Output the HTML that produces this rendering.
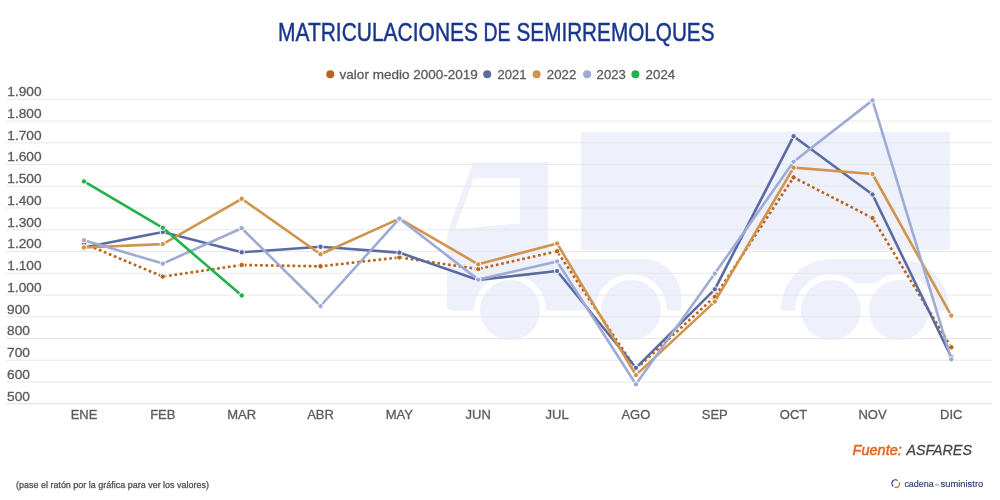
<!DOCTYPE html>
<html lang="es"><head><meta charset="utf-8"><title>Matriculaciones de semirremolques</title>
<style>html,body{margin:0;padding:0;background:#fff}body{width:1000px;height:500px;overflow:hidden;font-family:"Liberation Sans",sans-serif}svg{display:block}text{font-family:"Liberation Sans",sans-serif}</style></head><body>
<svg width="1000" height="500" viewBox="0 0 1000 500">
<rect width="1000" height="500" fill="#fff"/>
<g fill="#eef0fb">
<rect x="581" y="131.8" width="369" height="117.8"/>
<path fill-rule="evenodd" d="M473 162.3 H548 V259 H643 A38 38 0 0 1 681 297 V310.5 H667 V310 A36 36 0 0 0 595 310 V310.5 H546 V310 A36 36 0 0 0 474 310 V310.5 H452 A5 5 0 0 1 447 305.5 V240 Q447 234 449.2 228 Z M473.5 178 H520 V223.5 L455.5 229 Z"/>
<path d="M781 310.5 V310 A50 50 0 0 1 831 259 H899 A50 50 0 0 1 949 310 V310.5 H935 V310 A36 36 0 0 0 875.2 283 H854.8 A36 36 0 0 0 795 310 V310.5 Z"/>
<circle cx="510" cy="310" r="30"/>
<circle cx="631" cy="310" r="30"/>
<circle cx="831" cy="310" r="30"/>
<circle cx="899" cy="310" r="30"/>
</g>
<g stroke="#e8e8e8" stroke-width="1">
<line x1="6" x2="992" y1="99.25" y2="99.25"/>
<line x1="6" x2="992" y1="121.00" y2="121.00"/>
<line x1="6" x2="992" y1="142.75" y2="142.75"/>
<line x1="6" x2="992" y1="164.50" y2="164.50"/>
<line x1="6" x2="992" y1="186.25" y2="186.25"/>
<line x1="6" x2="992" y1="208.00" y2="208.00"/>
<line x1="6" x2="992" y1="229.75" y2="229.75"/>
<line x1="6" x2="992" y1="251.50" y2="251.50"/>
<line x1="6" x2="992" y1="273.25" y2="273.25"/>
<line x1="6" x2="992" y1="295.00" y2="295.00"/>
<line x1="6" x2="992" y1="316.75" y2="316.75"/>
<line x1="6" x2="992" y1="338.50" y2="338.50"/>
<line x1="6" x2="992" y1="360.25" y2="360.25"/>
<line x1="6" x2="992" y1="382.00" y2="382.00"/>
<line x1="6" x2="992" y1="403.75" y2="403.75" stroke="#dedede"/>
</g>
<g font-size="13" fill="#5c5c5c" stroke="#5c5c5c" stroke-width="0.3">
<text transform="translate(7.3,96.05) scale(1.055,1)">1.900</text>
<text transform="translate(7.3,117.80) scale(1.055,1)">1.800</text>
<text transform="translate(7.3,139.55) scale(1.055,1)">1.700</text>
<text transform="translate(7.3,161.30) scale(1.055,1)">1.600</text>
<text transform="translate(7.3,183.05) scale(1.055,1)">1.500</text>
<text transform="translate(7.3,204.80) scale(1.055,1)">1.400</text>
<text transform="translate(7.3,226.55) scale(1.055,1)">1.300</text>
<text transform="translate(7.3,248.30) scale(1.055,1)">1.200</text>
<text transform="translate(7.3,270.05) scale(1.055,1)">1.100</text>
<text transform="translate(7.3,291.80) scale(1.055,1)">1.000</text>
<text transform="translate(7.0,313.55) scale(1.055,1)">900</text>
<text transform="translate(7.0,335.30) scale(1.055,1)">800</text>
<text transform="translate(7.0,357.05) scale(1.055,1)">700</text>
<text transform="translate(7.0,378.80) scale(1.055,1)">600</text>
<text transform="translate(7.0,400.55) scale(1.055,1)">500</text>
</g>
<g font-size="13" fill="#5c5c5c" stroke="#5c5c5c" stroke-width="0.3" text-anchor="middle">
<text x="84.0" y="419.4">ENE</text>
<text x="162.8" y="419.4">FEB</text>
<text x="241.7" y="419.4">MAR</text>
<text x="320.5" y="419.4">ABR</text>
<text x="399.4" y="419.4">MAY</text>
<text x="478.2" y="419.4">JUN</text>
<text x="557.1" y="419.4">JUL</text>
<text x="635.9" y="419.4">AGO</text>
<text x="714.8" y="419.4">SEP</text>
<text x="793.6" y="419.4">OCT</text>
<text x="872.5" y="419.4">NOV</text>
<text x="951.3" y="419.4">DIC</text>
</g>
<polyline points="84.0,243.5 162.8,276.6 241.7,265.0 320.5,266.3 399.4,257.4 478.2,269.0 557.1,251.3 635.9,369.0 714.8,296.8 793.6,177.4 872.5,218.0 951.3,347.3" fill="none" stroke="#b8641c" stroke-width="2.6" stroke-linejoin="round" stroke-dasharray="2.7 2.7"/>
<g fill="#b8641c" stroke="#fff" stroke-width="1">
<circle cx="84.0" cy="243.5" r="2.7"/>
<circle cx="162.8" cy="276.6" r="2.7"/>
<circle cx="241.7" cy="265.0" r="2.7"/>
<circle cx="320.5" cy="266.3" r="2.7"/>
<circle cx="399.4" cy="257.4" r="2.7"/>
<circle cx="478.2" cy="269.0" r="2.7"/>
<circle cx="557.1" cy="251.3" r="2.7"/>
<circle cx="635.9" cy="369.0" r="2.7"/>
<circle cx="714.8" cy="296.8" r="2.7"/>
<circle cx="793.6" cy="177.4" r="2.7"/>
<circle cx="872.5" cy="218.0" r="2.7"/>
<circle cx="951.3" cy="347.3" r="2.7"/>
</g>
<polyline points="84.0,247.5 162.8,232.0 241.7,252.3 320.5,246.8 399.4,252.6 478.2,280.0 557.1,271.0 635.9,367.8 714.8,289.3 793.6,136.2 872.5,194.5 951.3,357.3" fill="none" stroke="#5a6ba3" stroke-width="2.6" stroke-linejoin="round"/>
<g fill="#5a6ba3" stroke="#fff" stroke-width="1">
<circle cx="84.0" cy="247.5" r="2.7"/>
<circle cx="162.8" cy="232.0" r="2.7"/>
<circle cx="241.7" cy="252.3" r="2.7"/>
<circle cx="320.5" cy="246.8" r="2.7"/>
<circle cx="399.4" cy="252.6" r="2.7"/>
<circle cx="478.2" cy="280.0" r="2.7"/>
<circle cx="557.1" cy="271.0" r="2.7"/>
<circle cx="635.9" cy="367.8" r="2.7"/>
<circle cx="714.8" cy="289.3" r="2.7"/>
<circle cx="793.6" cy="136.2" r="2.7"/>
<circle cx="872.5" cy="194.5" r="2.7"/>
<circle cx="951.3" cy="357.3" r="2.7"/>
</g>
<polyline points="84.0,247.5 162.8,244.1 241.7,198.8 320.5,254.2 399.4,218.6 478.2,264.3 557.1,243.5 635.9,375.1 714.8,301.6 793.6,167.6 872.5,174.0 951.3,315.6" fill="none" stroke="#d0944c" stroke-width="2.6" stroke-linejoin="round"/>
<g fill="#d0944c" stroke="#fff" stroke-width="1">
<circle cx="84.0" cy="247.5" r="2.7"/>
<circle cx="162.8" cy="244.1" r="2.7"/>
<circle cx="241.7" cy="198.8" r="2.7"/>
<circle cx="320.5" cy="254.2" r="2.7"/>
<circle cx="399.4" cy="218.6" r="2.7"/>
<circle cx="478.2" cy="264.3" r="2.7"/>
<circle cx="557.1" cy="243.5" r="2.7"/>
<circle cx="635.9" cy="375.1" r="2.7"/>
<circle cx="714.8" cy="301.6" r="2.7"/>
<circle cx="793.6" cy="167.6" r="2.7"/>
<circle cx="872.5" cy="174.0" r="2.7"/>
<circle cx="951.3" cy="315.6" r="2.7"/>
</g>
<polyline points="84.0,240.2 162.8,263.6 241.7,228.2 320.5,306.0 399.4,218.6 478.2,279.6 557.1,261.5 635.9,384.3 714.8,273.6 793.6,161.7 872.5,100.4 951.3,359.3" fill="none" stroke="#9eabd3" stroke-width="2.6" stroke-linejoin="round"/>
<g fill="#9eabd3" stroke="#fff" stroke-width="1">
<circle cx="84.0" cy="240.2" r="2.7"/>
<circle cx="162.8" cy="263.6" r="2.7"/>
<circle cx="241.7" cy="228.2" r="2.7"/>
<circle cx="320.5" cy="306.0" r="2.7"/>
<circle cx="399.4" cy="218.6" r="2.7"/>
<circle cx="478.2" cy="279.6" r="2.7"/>
<circle cx="557.1" cy="261.5" r="2.7"/>
<circle cx="635.9" cy="384.3" r="2.7"/>
<circle cx="714.8" cy="273.6" r="2.7"/>
<circle cx="793.6" cy="161.7" r="2.7"/>
<circle cx="872.5" cy="100.4" r="2.7"/>
<circle cx="951.3" cy="359.3" r="2.7"/>
</g>
<polyline points="84.0,181.4 162.8,227.8 241.7,295.5" fill="none" stroke="#22b24c" stroke-width="2.6" stroke-linejoin="round"/>
<g fill="#22b24c" stroke="#fff" stroke-width="1">
<circle cx="84.0" cy="181.4" r="2.7"/>
<circle cx="162.8" cy="227.8" r="2.7"/>
<circle cx="241.7" cy="295.5" r="2.7"/>
</g>
<g font-size="25.5" fill="#18378c" stroke="#18378c" stroke-width="0.45">
<text x="278" y="41.3" textLength="200" lengthAdjust="spacingAndGlyphs">MATRICULACIONES</text>
<text x="483.5" y="41.3" textLength="27" lengthAdjust="spacingAndGlyphs">DE</text>
<text x="516.5" y="41.3" textLength="198" lengthAdjust="spacingAndGlyphs">SEMIRREMOLQUES</text>
</g>
<g font-size="13" fill="#5c5c5c" stroke="#5c5c5c" stroke-width="0.3">
<circle cx="330.3" cy="74.3" r="4" fill="#b8641c" stroke="none"/>
<text x="339.6" y="78.5" textLength="138.2" lengthAdjust="spacingAndGlyphs">valor medio 2000-2019</text>
<circle cx="487.2" cy="74.3" r="4" fill="#5a6ba3" stroke="none"/>
<text x="497.4" y="78.5" textLength="29" lengthAdjust="spacingAndGlyphs">2021</text>
<circle cx="536.6" cy="74.3" r="4" fill="#d0944c" stroke="none"/>
<text x="546.8" y="78.5" textLength="29.5" lengthAdjust="spacingAndGlyphs">2022</text>
<circle cx="587.1" cy="74.3" r="4" fill="#9eabd3" stroke="none"/>
<text x="596.6" y="78.5" textLength="29.3" lengthAdjust="spacingAndGlyphs">2023</text>
<circle cx="635.4" cy="74.3" r="4" fill="#22b24c" stroke="none"/>
<text x="645.6" y="78.5" textLength="29.6" lengthAdjust="spacingAndGlyphs">2024</text>
</g>
<text x="852.6" y="454.7" font-size="15" font-style="italic" fill="#e5671e" stroke="#e5671e" stroke-width="0.55" textLength="49.2" lengthAdjust="spacingAndGlyphs">Fuente:</text>
<text x="906.4" y="454.7" font-size="15" font-style="italic" fill="#444" stroke="#444" stroke-width="0.3" textLength="65.5" lengthAdjust="spacingAndGlyphs">ASFARES</text>
<text x="16" y="487.5" font-size="9.5" fill="#4a4a4a" stroke="#4a4a4a" stroke-width="0.25" textLength="193" lengthAdjust="spacingAndGlyphs">(pase el ratón por la gráfica para ver los valores)</text>
<g fill="none" stroke-width="1.3"><path d="M893.3 486.2 A3.5 3.5 0 0 1 897.6 480.6" stroke="#33447a"/><path d="M899.2 482.3 A3.5 3.5 0 0 1 894.8 487.2" stroke="#e5671e"/></g>
<g font-size="9.6" fill="#354577" stroke="#354577" stroke-width="0.2"><text x="904.4" y="486.8" textLength="29.2" lengthAdjust="spacingAndGlyphs">cadena</text><text x="934.6" y="486.3" font-size="4.2" stroke="none" fill="#7b86a8">de</text><text x="940.6" y="486.8" textLength="42.6" lengthAdjust="spacingAndGlyphs">suministro</text></g>
</svg></body></html>
